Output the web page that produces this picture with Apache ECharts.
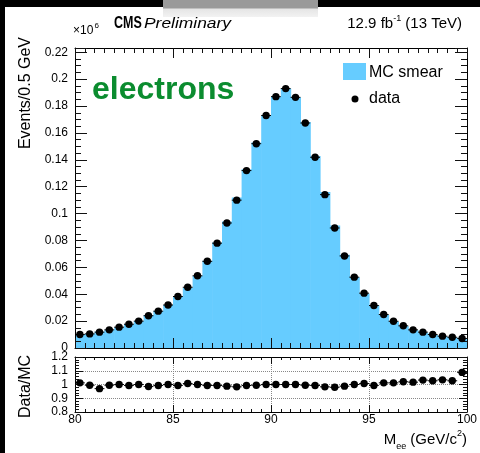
<!DOCTYPE html>
<html>
<head>
<meta charset="utf-8">
<title>CMS electrons Mee</title>
<script src="https://cdn.jsdelivr.net/npm/echarts@6/dist/echarts.min.js"></script>
<style>
  html, body { margin: 0; padding: 0; background: #fff; }
  #edgeLeft { position: absolute; left: 0; top: 0; width: 5px; height: 453px; background: #000; }
  #edgeTop { position: absolute; left: 0; top: 0; width: 480px; height: 7px; background: #000; }
  #tab { position: absolute; left: 163px; top: 0; width: 155px; height: 17px;
         background: linear-gradient(#9a9a9a 0, #9a9a9a 45%, #e6e6e6 55%, #f2f2f2 100%); }
  #main { position: absolute; left: 0; top: 0; width: 480px; height: 453px; }
</style>
</head>
<body>
<div id="edgeLeft"></div>
<div id="edgeTop"></div>
<div id="tab"></div>
<div id="main"></div>
<script type="text/javascript">
// M_ee histogram, 40 bins of 0.5 GeV from 80 to 100
var binStart = 80;
var binWidth = 0.5;
// MC smear (x10^6 events / 0.5 GeV)
var mcSmear = [
  0.0099, 0.0106, 0.0122, 0.0136, 0.0155, 0.0178, 0.0200, 0.0244, 0.0276, 0.0320,
  0.0386, 0.0449, 0.0537, 0.0650, 0.0785, 0.0941, 0.1119, 0.1329, 0.1528, 0.1730,
  0.1870, 0.1930, 0.1865, 0.1682, 0.1429, 0.1161, 0.0911, 0.0693, 0.0527, 0.0405,
  0.0318, 0.0246, 0.0197, 0.0162, 0.0133, 0.0114, 0.0097, 0.0085, 0.0078, 0.0066
];
// data points
var dataEvents = [
  0.0100, 0.0105, 0.0118, 0.0135, 0.0155, 0.0177, 0.0200, 0.0240, 0.0274, 0.0320,
  0.0383, 0.0452, 0.0537, 0.0645, 0.0780, 0.0930, 0.1100, 0.1320, 0.1520, 0.1730,
  0.1870, 0.1930, 0.1865, 0.1674, 0.1419, 0.1141, 0.0893, 0.0685, 0.0527, 0.0408,
  0.0316, 0.0249, 0.0199, 0.0165, 0.0135, 0.0118, 0.0100, 0.0088, 0.0080, 0.0071
];
// Data/MC ratio
var dataOverMC = [
  1.012, 0.995, 0.970, 0.995, 1.000, 0.993, 1.000, 0.985, 0.993, 1.000,
  0.993, 1.007, 1.000, 0.993, 0.993, 0.988, 0.983, 0.993, 0.995, 1.000,
  1.000, 1.000, 1.000, 0.995, 0.993, 0.983, 0.980, 0.988, 1.000, 1.007,
  0.993, 1.012, 1.012, 1.020, 1.017, 1.032, 1.027, 1.034, 1.027, 1.088
];
var mainYTicks = [0, 0.22, 0.02];   // min, last label, step
var ratioYTicks = [0.8, 1.2, 0.1];
var xTicks = [80, 100, 5];

var fillBlue = '#66ccff';
var font = 'Liberation Sans, Arial, Helvetica, sans-serif';
var tickColor = '#111';

var centers = mcSmear.map(function (v, i) { return binStart + binWidth * (i + 0.5); });
function pairs(vals) { return vals.map(function (v, i) { return [centers[i], v]; }); }

function renderBin(params, api) {
  var x = api.value(0), y = api.value(1);
  var p0 = api.coord([x - binWidth / 2, 0]);
  var p1 = api.coord([x + binWidth / 2, y]);
  return {
    type: 'rect',
    shape: { x: p0[0], y: p1[1], width: p1[0] - p0[0] + 0.6, height: p0[1] - p1[1] },
    style: { fill: fillBlue }
  };
}
function renderPoint(params, api) {
  var x = api.value(0), y = api.value(1);
  var c = api.coord([x, y]);
  var l = api.coord([x - binWidth / 2, y]);
  var r = api.coord([x + binWidth / 2, y]);
  return {
    type: 'group',
    children: [
      { type: 'line', shape: { x1: l[0], y1: c[1], x2: r[0], y2: c[1] }, style: { stroke: '#000', lineWidth: 1 } },
      { type: 'circle', shape: { cx: c[0], cy: c[1], r: 3.7 }, style: { fill: '#000' } }
    ]
  };
}

function xAxis(grid, pos, labels, split) {
  return {
    gridIndex: grid, type: 'value', position: pos, min: xTicks[0], max: xTicks[1], interval: xTicks[2],
    axisLine: { show: true, onZero: false, lineStyle: { color: '#000', width: 1 } },
    axisTick: { show: true, inside: true, length: grid === 0 ? 10 : 7, lineStyle: { color: tickColor, width: 1 } },
    minorTick: { show: true, splitNumber: 10, length: grid === 0 ? 5 : 3, lineStyle: { color: tickColor, width: 1 } },
    axisLabel: { show: labels, color: '#000', fontSize: 12, fontFamily: font, margin: 2 },
    splitLine: { show: split, lineStyle: { color: '#888', type: 'dotted' } },
    z: 5
  };
}
function yAxis(grid, pos, range, labels, minorSplit, split, max) {
  return {
    gridIndex: grid, type: 'value', position: pos, min: range[0], max: max, interval: range[2],
    axisLine: { show: true, onZero: false, lineStyle: { color: '#000', width: 1 } },
    axisTick: { show: true, inside: true, length: grid === 0 ? 12 : 8, lineStyle: { color: tickColor, width: 1 } },
    minorTick: { show: true, splitNumber: minorSplit, length: grid === 0 ? 6 : 4, lineStyle: { color: tickColor, width: 1 } },
    axisLabel: { show: labels, color: '#000', fontSize: 12, fontFamily: font, margin: 7, showMaxLabel: grid === 1 },
    splitLine: { show: split, lineStyle: { color: '#888', type: 'dotted' } },
    z: 5
  };
}

var chart = echarts.init(document.getElementById('main'));
var option = {
  animation: false,
  grid: [
    { left: 75, top: 48, width: 392, height: 300 },
    { left: 75, top: 357, width: 392, height: 55 }
  ],
  xAxis: [
    xAxis(0, 'bottom', false, false),
    xAxis(0, 'top', false, false),
    xAxis(1, 'bottom', true, true),
    xAxis(1, 'top', false, false)
  ],
  yAxis: [
    yAxis(0, 'left', mainYTicks, true, 4, false, 0.2232),
    yAxis(0, 'right', mainYTicks, false, 4, false, 0.2232),
    yAxis(1, 'left', ratioYTicks, true, 5, true, ratioYTicks[1]),
    yAxis(1, 'right', ratioYTicks, false, 5, false, ratioYTicks[1])
  ],
  series: [
    { name: 'MC smear', type: 'custom', xAxisIndex: 0, yAxisIndex: 0, renderItem: renderBin,
      encode: { x: 0, y: 1 }, data: pairs(mcSmear), z: 1 },
    { name: 'data', type: 'custom', xAxisIndex: 0, yAxisIndex: 0, renderItem: renderPoint,
      encode: { x: 0, y: 1 }, data: pairs(dataEvents), z: 6 },
    { name: 'Data/MC', type: 'custom', xAxisIndex: 2, yAxisIndex: 2, renderItem: renderPoint,
      encode: { x: 0, y: 1 }, data: pairs(dataOverMC), z: 6 }
  ],
  graphic: [
    { type: 'text', x: 73, y: 31, style: { text: '\u00d710', font: '12px ' + font, fill: '#000', textVerticalAlign: 'middle' } },
    { type: 'text', x: 94.5, y: 25.5, style: { text: '6', font: '8px ' + font, fill: '#000', textVerticalAlign: 'middle' } },
    { type: 'text', x: 114, y: 23.5, scaleX: 0.78, style: { text: 'CMS', font: 'bold 16px ' + font, fill: '#000', textVerticalAlign: 'middle' } },
    { type: 'text', x: 144, y: 23.5, scaleX: 1.16, style: { text: 'Preliminary', font: 'italic 15px ' + font, fill: '#000', textVerticalAlign: 'middle' } },
    { type: 'text', x: 462, y: 24, style: {
        text: '{n|12.9 fb}{s|-1}{n| (13 TeV)}', fill: '#000', textAlign: 'right', textVerticalAlign: 'middle',
        rich: { n: { fontSize: 15, fontFamily: font, lineHeight: 20 }, s: { fontSize: 9, fontFamily: font, verticalAlign: 'top', lineHeight: 20 } } } },
    { type: 'text', x: 92, y: 90, style: { text: 'electrons', font: 'bold 32px ' + font, fill: '#0b8c2f', textVerticalAlign: 'middle' } },
    { type: 'rect', shape: { x: 343, y: 63, width: 23, height: 17 }, style: { fill: fillBlue } },
    { type: 'text', x: 369, y: 73, style: { text: 'MC smear', font: '16px ' + font, fill: '#000', textVerticalAlign: 'middle' } },
    { type: 'circle', shape: { cx: 355, cy: 99, r: 3.5 }, style: { fill: '#000' } },
    { type: 'text', x: 369, y: 99, style: { text: 'data', font: '16px ' + font, fill: '#000', textVerticalAlign: 'middle' } },
    { type: 'text', x: 26, y: 37, rotation: Math.PI / 2, style: { text: 'Events/0.5 GeV', font: '16px ' + font, fill: '#000', textAlign: 'right', textVerticalAlign: 'middle' } },
    { type: 'text', x: 26, y: 418, rotation: Math.PI / 2, style: { text: 'Data/MC', font: '16px ' + font, fill: '#000', textAlign: 'left', textVerticalAlign: 'middle' } },
    { type: 'text', x: 467, y: 440, style: {
        text: '{n|M}{b|ee}{n| (GeV/c}{s|2}{n|)}', fill: '#000', textAlign: 'right', textVerticalAlign: 'middle',
        rich: { n: { fontSize: 15, fontFamily: font, lineHeight: 22 }, b: { fontSize: 9, fontFamily: font, verticalAlign: 'bottom', lineHeight: 22 },
                s: { fontSize: 9, fontFamily: font, verticalAlign: 'top', lineHeight: 22 } } } }
  ]
};
chart.setOption(option);
</script>
</body>
</html>
